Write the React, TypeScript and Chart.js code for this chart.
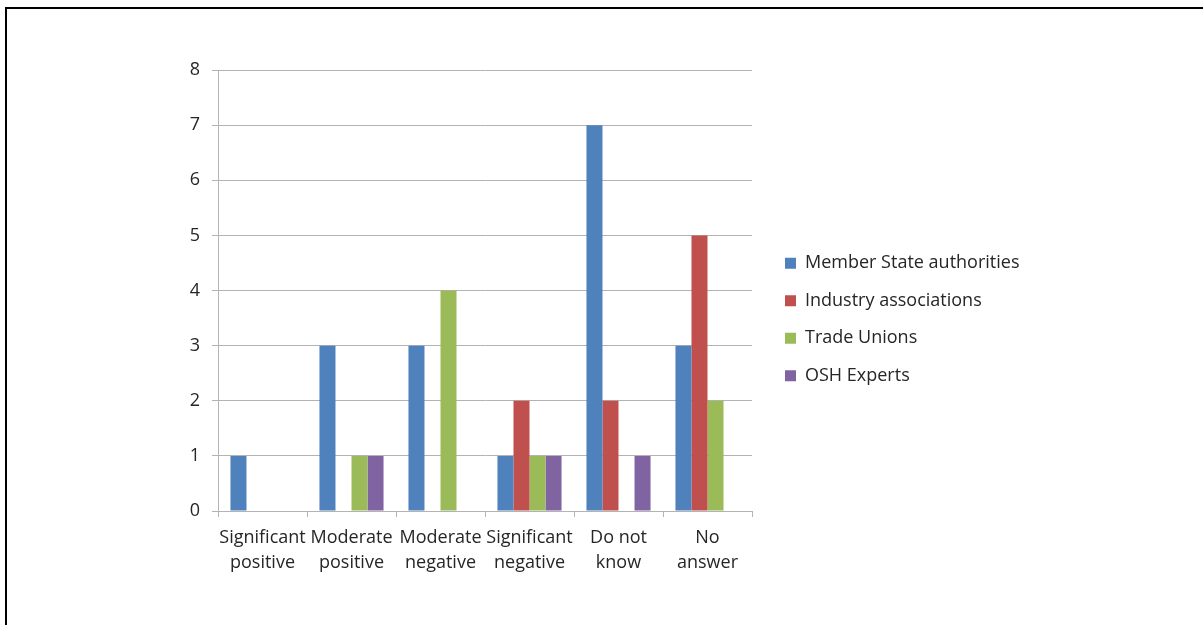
import { useEffect, useRef } from "react";
import { Chart, registerables } from "chart.js";

Chart.register(...registerables);

// Response categories (two-line axis labels)
const categories: string[][] = [
  ["Significant", "positive"],
  ["Moderate", "positive"],
  ["Moderate", "negative"],
  ["Significant", "negative"],
  ["Do not", "know"],
  ["No", "answer"],
];

// Number of respondents per stakeholder group
const memberStateAuthorities = [1, 3, 3, 1, 7, 3];
const industryAssociations = [0, 0, 0, 2, 2, 5];
const tradeUnions = [0, 1, 4, 1, 0, 2];
const oshExperts = [0, 1, 0, 1, 1, 0];

const seriesNames = [
  "Member State authorities",
  "Industry associations",
  "Trade Unions",
  "OSH Experts",
];
const seriesColors = ["#4F81BD", "#C0504D", "#9BBB59", "#8064A2"];

const yMin = 0;
const yMax = 8;
const yStep = 1;

const TEXT = "#262626";
const GRID = "#b3b3b3";
const FONT_FAMILY = "'Open Sans', sans-serif";
const FONT_SIZE = 18;

const WIDTH = 1203;
const HEIGHT = 625;

// Legend geometry
const LEGEND_BOX = 11;
const LEGEND_PADDING = 19.5;
const LEGEND_GAP = 13.5; // extra room between the plot and the legend
const PLOT_RIGHT = 752;

export default function App() {
  const canvasRef = useRef<HTMLCanvasElement | null>(null);

  useEffect(() => {
    const canvas = canvasRef.current;
    if (!canvas) return;
    Chart.defaults.font.family = FONT_FAMILY;
    Chart.defaults.font.size = FONT_SIZE;
    Chart.defaults.color = TEXT;

    // Legend width as Chart.js computes it, so the plot ends where it should
    const ctx2d = canvas.getContext("2d")!;
    ctx2d.font = `${FONT_SIZE}px ${FONT_FAMILY}`;
    const textW = Math.max(...seriesNames.map((n) => ctx2d.measureText(n).width));
    const legendW = LEGEND_PADDING + LEGEND_BOX + FONT_SIZE / 2 + textW + 10;
    const rightPad = WIDTH - PLOT_RIGHT - LEGEND_GAP - legendW;

    const values = [memberStateAuthorities, industryAssociations, tradeUnions, oshExperts];

    const chart = new Chart(canvas, {
      type: "bar",
      data: {
        labels: categories,
        datasets: values.map((data, i) => ({
          label: seriesNames[i],
          data,
          backgroundColor: seriesColors[i],
          borderWidth: 0,
          categoryPercentage: 0.72,
          barPercentage: 1,
        })),
      },
      options: {
        responsive: false,
        animation: false,
        devicePixelRatio: 1,
        layout: {
          padding: { left: 178, right: rightPad, top: 64, bottom: 50 },
        },
        plugins: {
          tooltip: { enabled: false },
          title: { display: false },
          legend: {
            display: true,
            position: "right",
            maxWidth: 1000,
            labels: {
              boxWidth: LEGEND_BOX,
              boxHeight: LEGEND_BOX,
              padding: LEGEND_PADDING,
              color: TEXT,
              font: { size: FONT_SIZE },
            },
          },
        },
        scales: {
          x: {
            grid: {
              display: true,
              drawOnChartArea: false,
              drawTicks: true,
              tickLength: 6,
              offset: true,
              color: GRID,
              lineWidth: 1,
            },
            border: { display: true, color: GRID, width: 1 },
            ticks: {
              color: TEXT,
              font: { size: FONT_SIZE, lineHeight: 25 / 18 },
              padding: 8,
              maxRotation: 0,
              minRotation: 0,
              autoSkip: false,
            },
            afterFit: (scale: any) => {
              scale.height = 64;
            },
          },
          y: {
            min: yMin,
            max: yMax,
            grid: {
              color: GRID,
              lineWidth: 1,
              drawTicks: true,
              tickLength: 6,
            },
            border: { display: true, color: GRID, width: 1 },
            ticks: {
              stepSize: yStep,
              color: TEXT,
              font: { size: FONT_SIZE },
              padding: 12,
            },
            afterFit: (scale: any) => {
              scale.width = 40;
            },
          },
          // empty spacing axes
          gapRight: {
            type: "linear",
            position: "right",
            display: true,
            grid: { display: false, drawTicks: false },
            border: { display: false },
            ticks: { display: false },
            afterFit: (scale: any) => {
              scale.width = LEGEND_GAP;
            },
          },
          gapTop: {
            type: "linear",
            position: "top",
            display: true,
            grid: { display: false, drawTicks: false },
            border: { display: false },
            ticks: { display: false },
            afterFit: (scale: any) => {
              scale.height = 6;
            },
          },
        },
      },
    } as any);

    return () => chart.destroy();
  }, []);

  return (
    <div
      style={{
        position: "fixed",
        left: 0,
        top: 0,
        width: WIDTH,
        height: HEIGHT,
        background: "#ffffff",
        overflow: "hidden",
      }}
    >
      <canvas ref={canvasRef} width={WIDTH} height={HEIGHT} style={{ display: "block" }} />
      <div
        style={{
          position: "absolute",
          left: 5,
          top: 7,
          right: 0,
          bottom: 0,
          borderLeft: "2px solid #000",
          borderTop: "2px solid #000",
          pointerEvents: "none",
        }}
      />
    </div>
  );
}
